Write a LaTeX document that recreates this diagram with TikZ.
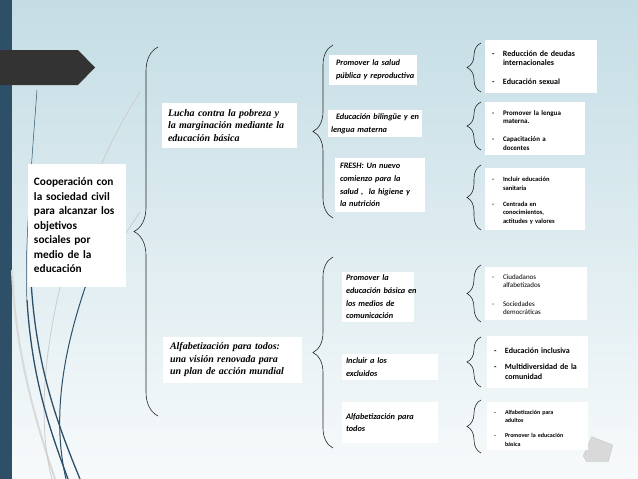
\documentclass[tikz,border=0pt]{standalone}
\usepackage{fontspec}
\setmainfont{Carlito}
\newfontfamily\serifbi{Liberation Serif}
\usetikzlibrary{decorations.pathreplacing}
\definecolor{stripblue}{RGB}{45,80,104}
\definecolor{bgtop}{RGB}{196,221,229}
\definecolor{bgbottom}{RGB}{247,250,251}
\definecolor{arrowgrey}{RGB}{51,51,51}

\newlength{\guionw}\setlength{\guionw}{11pt}
\newcommand{\guion}[2][0pt]{\par\vskip#1\noindent\hangindent=\guionw\hangafter=1\makebox[\guionw][l]{-}#2\par}
\newcommand{\leaffont}[2]{\fontsize{#1}{#2}\selectfont\setlength{\parskip}{0pt}}

\begin{document}
\begin{tikzpicture}[x=1pt, y=-1pt,
    rootbox/.style={fill=white, inner xsep=6pt, text width=86pt, minimum height=123pt,
      align=left, font=\fontsize{11.3}{14.5}\selectfont\bfseries},
    midbox/.style={fill=white, inner xsep=6pt, align=left,
      font=\serifbi\fontsize{10}{12.5}\selectfont\bfseries\itshape},
    topicbox/.style={fill=white, inner xsep=6pt, align=left,
      font=\fontsize{8.3}{12.7}\selectfont\bfseries\itshape},
    leaf/.style={fill=white, inner xsep=7pt, align=left},
    curly/.style={decorate, decoration={brace, amplitude=#1}, draw=black!85, line width=0.6pt}]
    \useasboundingbox (0,0) rectangle (638,479);
    % Background
    \shade[top color=bgtop, bottom color=bgbottom] (0,0) rectangle (638,479);
    \fill[stripblue] (0,0) rectangle (12,479);
    % Title arrow
    \fill[arrowgrey] (0,50) -- (78,50) -- (95,67.5) -- (78,85) -- (0,85) -- cycle;

    % Decorative curves
    \draw[gray!30, line width=2pt] (12,270) .. controls (15,350) and (35,420) .. (55,479);
    \draw[gray!40, line width=0.8pt] (140,92) .. controls (70,200) and (25,380) .. (52,479);
    \draw[gray!45, line width=0.6pt] (140,212) -- (120,242);
    \draw[stripblue, line width=0.5pt] (37,90) .. controls (31,170) and (24,260) .. (27,300);
    \draw[stripblue, line width=1.3pt] (27,300) .. controls (32,380) and (50,430) .. (68,479);
    \draw[stripblue, line width=1.3pt] (31,280) .. controls (36,370) and (60,430) .. (80,479);
    \draw[stripblue, line width=1pt] (118,205) .. controls (80,290) and (45,390) .. (66,479);

    % Pentagon
    \filldraw[fill=gray!30, draw=gray!45] (591.7,436.7) -- (612.7,445) -- (608.3,461.7)
      -- (586.7,461.7) -- (583.3,456) -- cycle;

    % Root
    \node[rootbox] (coop) at (77,225.5) {Cooperación con\\la sociedad civil\\para alcanzar los\\objetivos\\sociales por\\medio de la\\educación};

    % Second level
    \node[midbox, text width=123pt, minimum height=45pt] (lucha) at (229.5,125.5)
      {Lucha contra la pobreza y\\la marginación mediante la\\educación básica};
    \node[midbox, text width=125pt, inner xsep=7pt, minimum height=46pt] (alfa) at (232.5,360)
      {Alfabetización para todos:\\una visión renovada para\\un plan de acción mundial};

    % Third level
    \node[topicbox, text width=74pt, inner xsep=7pt, minimum height=30pt] (salud) at (373,70)
      {Promover la salud\\\mbox{pública y reproductiva}};
    \node[topicbox, text width=88pt, inner xsep=3pt, minimum height=27pt] (bilingue) at (375,123.5)
      {\mbox{\hspace*{5pt}Educación bilingüe y en}\\lengua materna};
    \node[topicbox, text width=80pt, inner xsep=5pt, minimum height=54pt] (fresh) at (380,185)
      {FRESH: Un nuevo\\comienzo para la\\\mbox{salud ,\ \ la higiene y}\\la nutrición};
    \node[topicbox, text width=64pt, inner xsep=4pt, minimum height=50pt] (medios) at (378,297)
      {Promover la\\\mbox{educación básica en}\\los medios de\\comunicación};
    \node[topicbox, text width=88pt, inner xsep=4pt, minimum height=26pt] (excluidos) at (390,367)
      {Incluir a los\\excluidos};
    \node[topicbox, text width=88pt, inner xsep=4pt, minimum height=41pt] (todos) at (390,422.5)
      {Alfabetización para\\todos};

    % Fourth level
    \node[leaf, text width=98pt, minimum height=53pt, font=\leaffont{8}{9}\bfseries] (deudas) at (541,66.5)
      {\guion{Reducción de deudas\newline internacionales}\guion[10pt]{Educación sexual}};
    \node[leaf, text width=86pt, minimum height=53pt, font=\leaffont{7}{8.5}\bfseries] (lengua) at (535,128.5)
      {\guion{Promover la lengua\newline materna.}\guion[9.5pt]{Capacitación a\newline docentes}};
    \node[leaf, text width=86pt, minimum height=62pt, font=\leaffont{6.5}{8.5}\bfseries] (sanitaria) at (535,199)
      {\guion{Incluir educación\newline sanitaria}\guion[7.5pt]{Centrada en\newline conocimientos,\newline actitudes y valores}};
    \node[leaf, text width=88pt, minimum height=53pt, font=\leaffont{7}{8}] (ciudadanos) at (536,293.5)
      {\guion{Ciudadanos\newline alfabetizados}\guion[11pt]{Sociedades\newline democráticas}};
    \node[leaf, text width=87pt, minimum height=52pt, font=\leaffont{8}{10}\bfseries] (inclusiva) at (537.5,362)
      {\guion{Educación inclusiva}\guion[6pt]{Multidiversidad de la\newline comunidad}};
    \node[leaf, text width=87pt, minimum height=48pt, font=\leaffont{6}{8.5}\bfseries] (adultos) at (537.5,426)
      {\guion{Alfabetización para\newline adultos}\guion[6.5pt]{Promover la educación\newline básica}};

    % Braces
    \coordinate (coop-lo) at (158,416);  \coordinate (coop-hi) at (158,47);
    \coordinate (lucha-lo) at (333,218); \coordinate (lucha-hi) at (333,45);
    \coordinate (alfa-lo) at (333,448);  \coordinate (alfa-hi) at (333,257);
    \draw[curly=24pt] (coop-lo) -- (coop-hi);
    \draw[curly=20pt] (lucha-lo) -- (lucha-hi);
    \draw[curly=20pt] (alfa-lo) -- (alfa-hi);

    \coordinate (salud-lo) at (481,92);      \coordinate (salud-hi) at (481,43);
    \coordinate (bilingue-lo) at (481,150);  \coordinate (bilingue-hi) at (481,102);
    \coordinate (fresh-lo) at (481,230);     \coordinate (fresh-hi) at (481,165);
    \coordinate (medios-lo) at (481,322);    \coordinate (medios-hi) at (481,265);
    \coordinate (excluidos-lo) at (481,387); \coordinate (excluidos-hi) at (481,337);
    \coordinate (todos-lo) at (481,453);     \coordinate (todos-hi) at (481,400);
    \draw[curly=14pt] (salud-lo) -- (salud-hi);
    \draw[curly=14pt] (bilingue-lo) -- (bilingue-hi);
    \draw[curly=14pt] (fresh-lo) -- (fresh-hi);
    \draw[curly=14pt] (medios-lo) -- (medios-hi);
    \draw[curly=14pt] (excluidos-lo) -- (excluidos-hi);
    \draw[curly=14pt] (todos-lo) -- (todos-hi);
\end{tikzpicture}
\end{document}
